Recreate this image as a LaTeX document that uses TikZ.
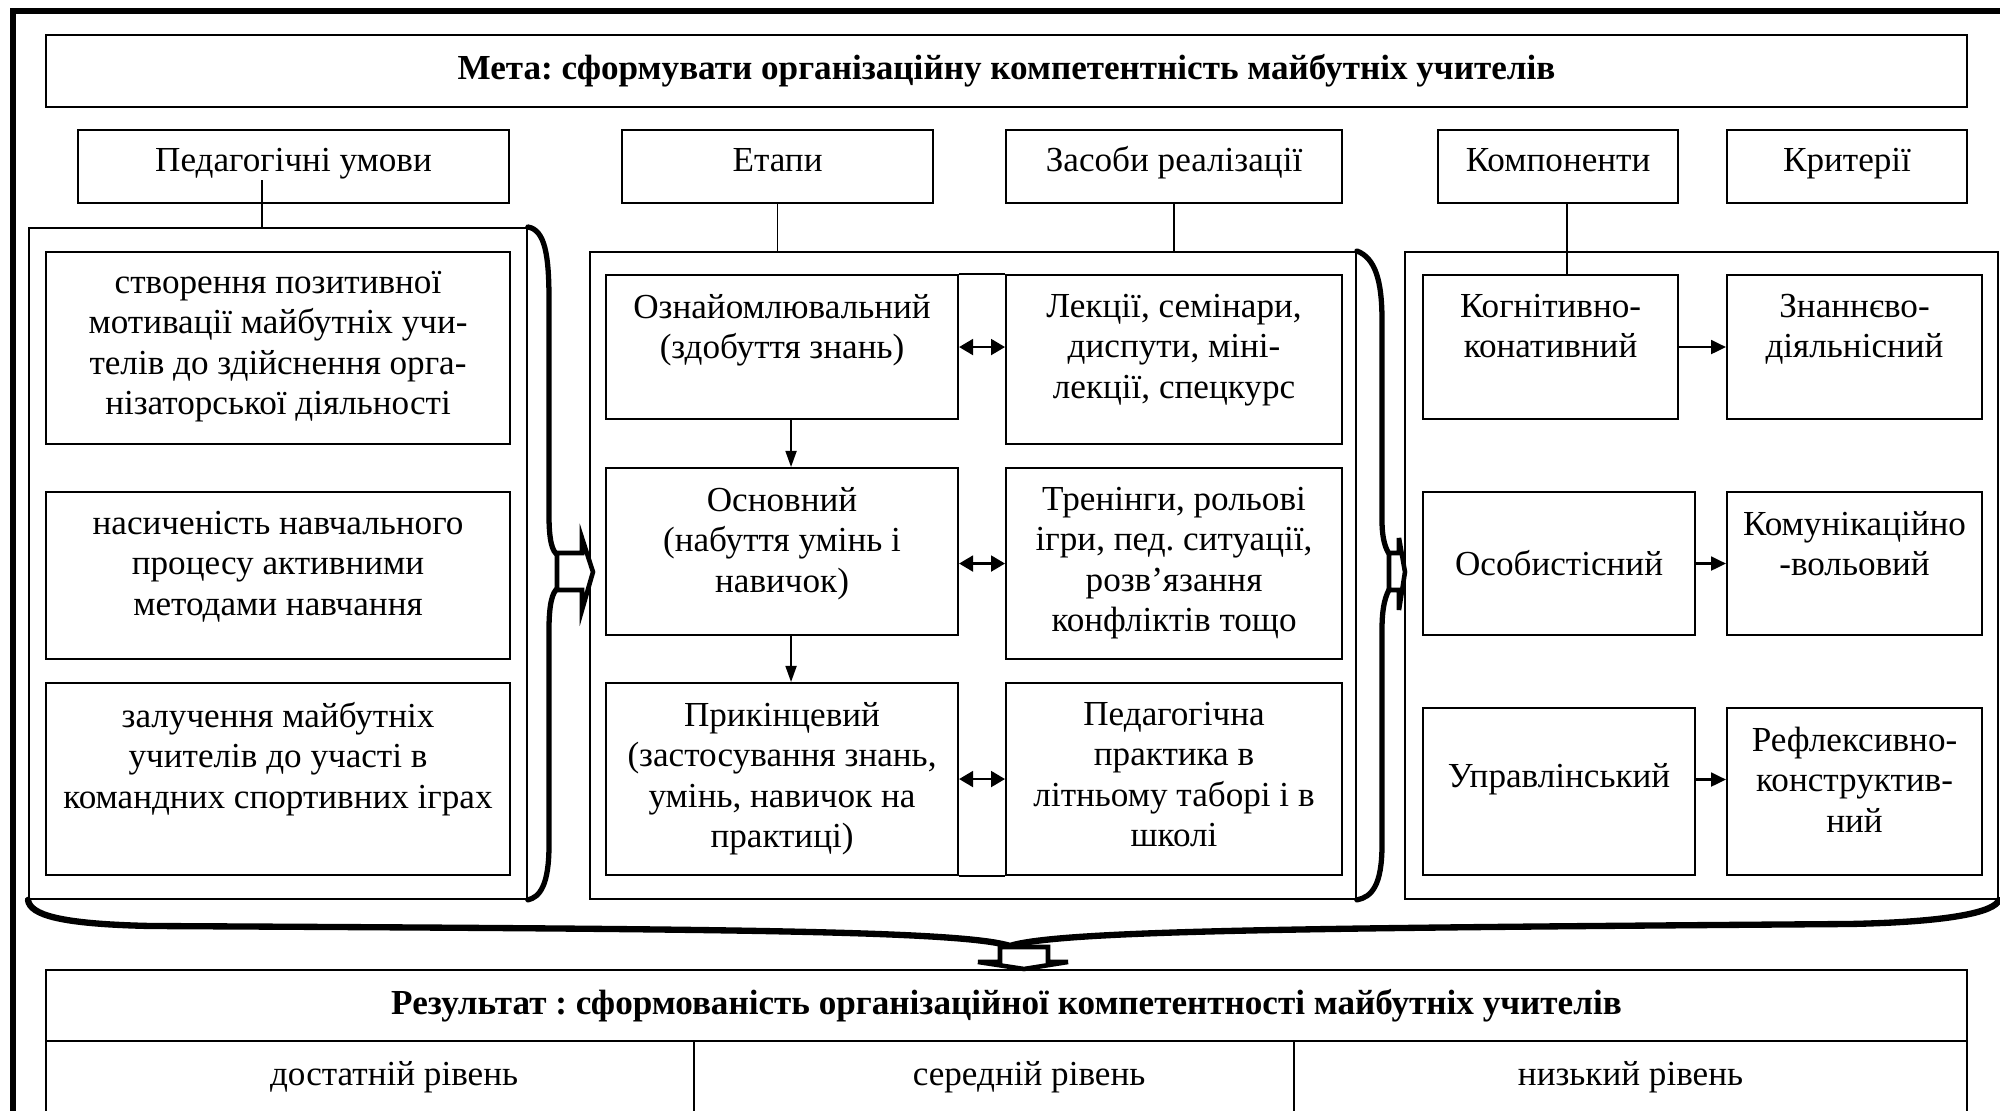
\documentclass[tikz,border=0pt]{standalone}
\usepackage{fontspec}
\setmainfont{Liberation Serif}
\usetikzlibrary{positioning,arrows.meta,calc}
\frenchspacing
\tikzset{
  box/.style={draw,line width=0.6pt,inner sep=0pt,anchor=north west},
  grp/.style={draw,line width=0.55pt,inner sep=0pt,anchor=north west},
  hdr/.style={box,text height=7pt,text depth=4.2pt},
  ttlbox/.style={box,font=\fontsize{10}{11.5}\selectfont\bfseries},
  txt/.style={align=center,inner sep=0pt},
  conn/.style={line width=0.5pt},
  dn/.style={-{Triangle[length=1.6mm,width=1.1mm]},line width=0.5pt},
  rt/.style={-{Triangle[length=1.5mm,width=1.4mm]},line width=0.6pt},
  both/.style={{Triangle[length=1.4mm,width=1.6mm]}-{Triangle[length=1.4mm,width=1.6mm]},line width=0.6pt},
  brc/.style={line width=1.5pt,line cap=round},
  blk/.style={draw,line width=1.3pt,line join=miter,fill=white},
}
\begin{document}
\begin{tikzpicture}[x=0.1mm,y=-0.1mm,font=\fontsize{10}{11.5}\selectfont]
  \useasboundingbox (0,0) rectangle (2000,1111);
  \clip (0,0) rectangle (2000,1111);
  % --- outer frame ---
  \draw[line width=1.6pt] (13,11) rectangle (2040,1150);
  % --- goal + headers ---
  \node[ttlbox,minimum width=192.1mm,minimum height=7.2mm] (meta) at (45,34) {Мета: сформувати організаційну компетентність майбутніх учителів};
  \node[hdr,minimum width=43.1mm,minimum height=7.3mm] (hped) at (77,129) {Педагогічні умови};
  \node[hdr,minimum width=31.1mm,minimum height=7.3mm] (hetap) at (621,129) {Етапи};
  \node[hdr,minimum width=33.6mm,minimum height=7.3mm] (hzas) at (1005,129) {Засоби реалізації};
  \node[hdr,minimum width=24mm,minimum height=7.3mm] (hkomp) at (1437,129) {Компоненти};
  \node[hdr,minimum width=24mm,minimum height=7.3mm] (hkryt) at (1726,129) {Критерії};
  % --- group frames ---
  \node[grp,minimum width=49.8mm,minimum height=67.1mm] (lgrp) at (28,227) {};
  \node[grp,minimum width=76.6mm,minimum height=64.7mm] (mgrp) at (589,251) {};
  \node[grp,minimum width=59.3mm,minimum height=64.7mm] (rgrp) at (1404,251) {};
  % --- pedagogical conditions ---
  \node[box,minimum width=46.4mm,minimum height=19.2mm] (c1) at (45,251) {};
  \node[box,minimum width=46.4mm,minimum height=16.7mm] (c2) at (45,491) {};
  \node[box,minimum width=46.4mm,minimum height=19.2mm] (c3) at (45,682) {};
  \node[txt,below=1.95mm of c1.north] (tc1) {створення позитивної\\мотивації майбутніх учи-\\телів до здійснення орга-\\нізаторської діяльності};
  \node[txt,below=1.95mm of c2.north] (tc2) {насиченість навчального\\процесу активними\\методами навчання};
  \node[txt,below=1.95mm of c3.north] (tc3) {залучення майбутніх\\учителів до участі в\\командних спортивних іграх};
  % --- stages + means ---
  \node[box,minimum width=35.2mm,minimum height=14.4mm] (s1) at (605,274) {};
  \node[box,minimum width=33.6mm,minimum height=16.9mm] (m1) at (1005,274) {};
  \node[box,minimum width=35.2mm,minimum height=16.7mm] (s2) at (605,467) {};
  \node[box,minimum width=33.6mm,minimum height=19.1mm] (m2) at (1005,467) {};
  \node[box,minimum width=35.2mm,minimum height=19.2mm] (s3) at (605,682) {};
  \node[box,minimum width=33.6mm,minimum height=19.2mm] (m3) at (1005,682) {};
  \node[txt,below=1.95mm of s1.north] (ts1) {Ознайомлювальний\\(здобуття знань)};
  \node[txt,below=1.95mm of m1.north] (tm1) {Лекції, семінари,\\диспути, міні-\\лекції, спецкурс};
  \node[txt,below=1.95mm of s2.north] (ts2) {Основний\\(набуття умінь і\\навичок)};
  \node[txt,below=1.95mm of m2.north] (tm2) {Тренінги, рольові\\ігри, пед. ситуації,\\розв’язання\\конфліктів тощо};
  \node[txt,below=1.95mm of s3.north] (ts3) {Прикінцевий\\(застосування знань,\\умінь, навичок на\\практиці)};
  \node[txt,below=1.95mm of m3.north] (tm3) {Педагогічна\\практика в\\літньому таборі і в\\школі};
  \draw[conn] (s1.north east) -- (s1.north east -| m1.west);
  \draw[conn] (s3.south east) -- (s3.south east -| m3.west);
  % --- components + criteria ---
  \node[box,minimum width=25.5mm,minimum height=14.4mm] (k1) at (1422,274) {};
  \node[box,minimum width=25.5mm,minimum height=14.4mm] (r1) at (1726,274) {};
  \node[box,minimum width=27.2mm,minimum height=14.3mm] (k2) at (1422,491) {Особистісний};
  \node[box,minimum width=25.5mm,minimum height=14.3mm] (r2) at (1726,491) {};
  \node[box,minimum width=27.2mm,minimum height=16.7mm] (k3) at (1422,707) {};
  \node[box,minimum width=25.5mm,minimum height=16.7mm] (r3) at (1726,707) {};
  \node[txt,below=1.95mm of k1.north] (tk1) {Когнітивно-\\конативний};
  \node[txt,below=1.95mm of r1.north] (tr1) {Знаннєво-\\діяльнісний};
  \node[txt,below=1.95mm of r2.north] (tr2) {Комунікаційно\\-вольовий};
  \node[txt] (tk3) at ([yshift=1.2mm]k3.center) {Управлінський};
  \node[txt,below=1.95mm of r3.north] (tr3) {Рефлексивно-\\конструктив-\\ний};
  % --- header links ---
  \draw[conn] ([xshift=-3.15mm,yshift=2.4mm]hped.south) -- ([xshift=-3.15mm]hped.south |- lgrp.north);
  \draw[conn] (hetap.south) -- (hetap.south |- mgrp.north);
  \draw[conn] (hzas.south) -- (hzas.south |- mgrp.north);
  \draw[conn] ([xshift=0.9mm]hkomp.south) -- ([xshift=0.9mm]hkomp.south |- k1.north);
  % --- arrows inside groups ---
  \draw[dn] ([xshift=0.9mm]s1.south) -- ([xshift=0.9mm]s1.south |- s2.north);
  \draw[dn] ([xshift=0.9mm]s2.south) -- ([xshift=0.9mm]s2.south |- s3.north);
  \draw[both] (s1.east) -- (s1.east -| m1.west);
  \draw[both] (m2.west -| s2.east) -- (m2.west);
  \draw[both] (s3.east) -- (s3.east -| m3.west);
  \draw[rt] (k1.east) -- (k1.east -| r1.west);
  \draw[rt] (k2.east) -- (k2.east -| r2.west);
  \draw[rt] ([yshift=1.2mm]k3.east) -- ([yshift=1.2mm]k3.east -| r3.west);
  % --- braces + block arrows ---
  \draw[brc] (lgrp.north east) .. controls (545,230) and (549,255) .. (549,300) -- (549,515) .. controls (549,540) and (552,552) .. (558,555);
  \draw[brc] (558,588) .. controls (552,592) and (549,605) .. (549,630) -- (549,845) .. controls (549,885) and (540,897) .. (lgrp.south east);
  \draw[blk] (557,553) -- (582,553) -- (582,538) -- (593,572) -- (582,610) -- (582,590) -- (557,590) -- cycle;
  \draw[brc] (mgrp.north east) .. controls (1375,258) and (1382,280) .. (1382,320) -- (1382,520) .. controls (1382,540) and (1386,550) .. (1390,555);
  \draw[brc] (1390,588) .. controls (1386,595) and (1382,605) .. (1382,630) -- (1382,845) .. controls (1382,885) and (1372,897) .. (mgrp.south east);
  \draw[blk] (1389,553) -- (1399,553) -- (1399,538) -- (1405,572) -- (1399,610) -- (1399,590) -- (1389,590) -- cycle;
  \draw[brc,line width=1.8pt] (lgrp.south west) .. controls (30,915) and (60,924) .. (150,926)
    .. controls (700,929) and (960,930) .. (1010,946)
    .. controls (1060,930) and (1320,928) .. (1850,924)
    .. controls (1950,922) and (1995,912) .. (rgrp.south east);
  \draw[blk] (1000,947) -- (1048,947) -- (1048,962) -- (1068,962) -- (1024,969) -- (978,962) -- (1000,962) -- cycle;
  % --- result table ---
  \node[ttlbox,minimum width=192.1mm,minimum height=7.1mm] (res) at (45,969) {Результат : сформованість організаційної компетентності майбутніх учителів};
  \node[box,minimum width=64.8mm,minimum height=9mm] (lv1) at (45,1040) {};
  \node[box,minimum width=60mm,minimum height=9mm] (lv2) at (693,1040) {};
  \node[box,minimum width=67.3mm,minimum height=9mm] (lv3) at (1293,1040) {};
  \node[txt] (tl1) at ([xshift=2.4mm,yshift=0.9mm]lv1.center) {достатній рівень};
  \node[txt] (tl2) at ([xshift=3.5mm,yshift=0.9mm]lv2.center) {середній рівень};
  \node[txt] (tl3) at ([yshift=0.9mm]lv3.center) {низький рівень};
\end{tikzpicture}
\end{document}
